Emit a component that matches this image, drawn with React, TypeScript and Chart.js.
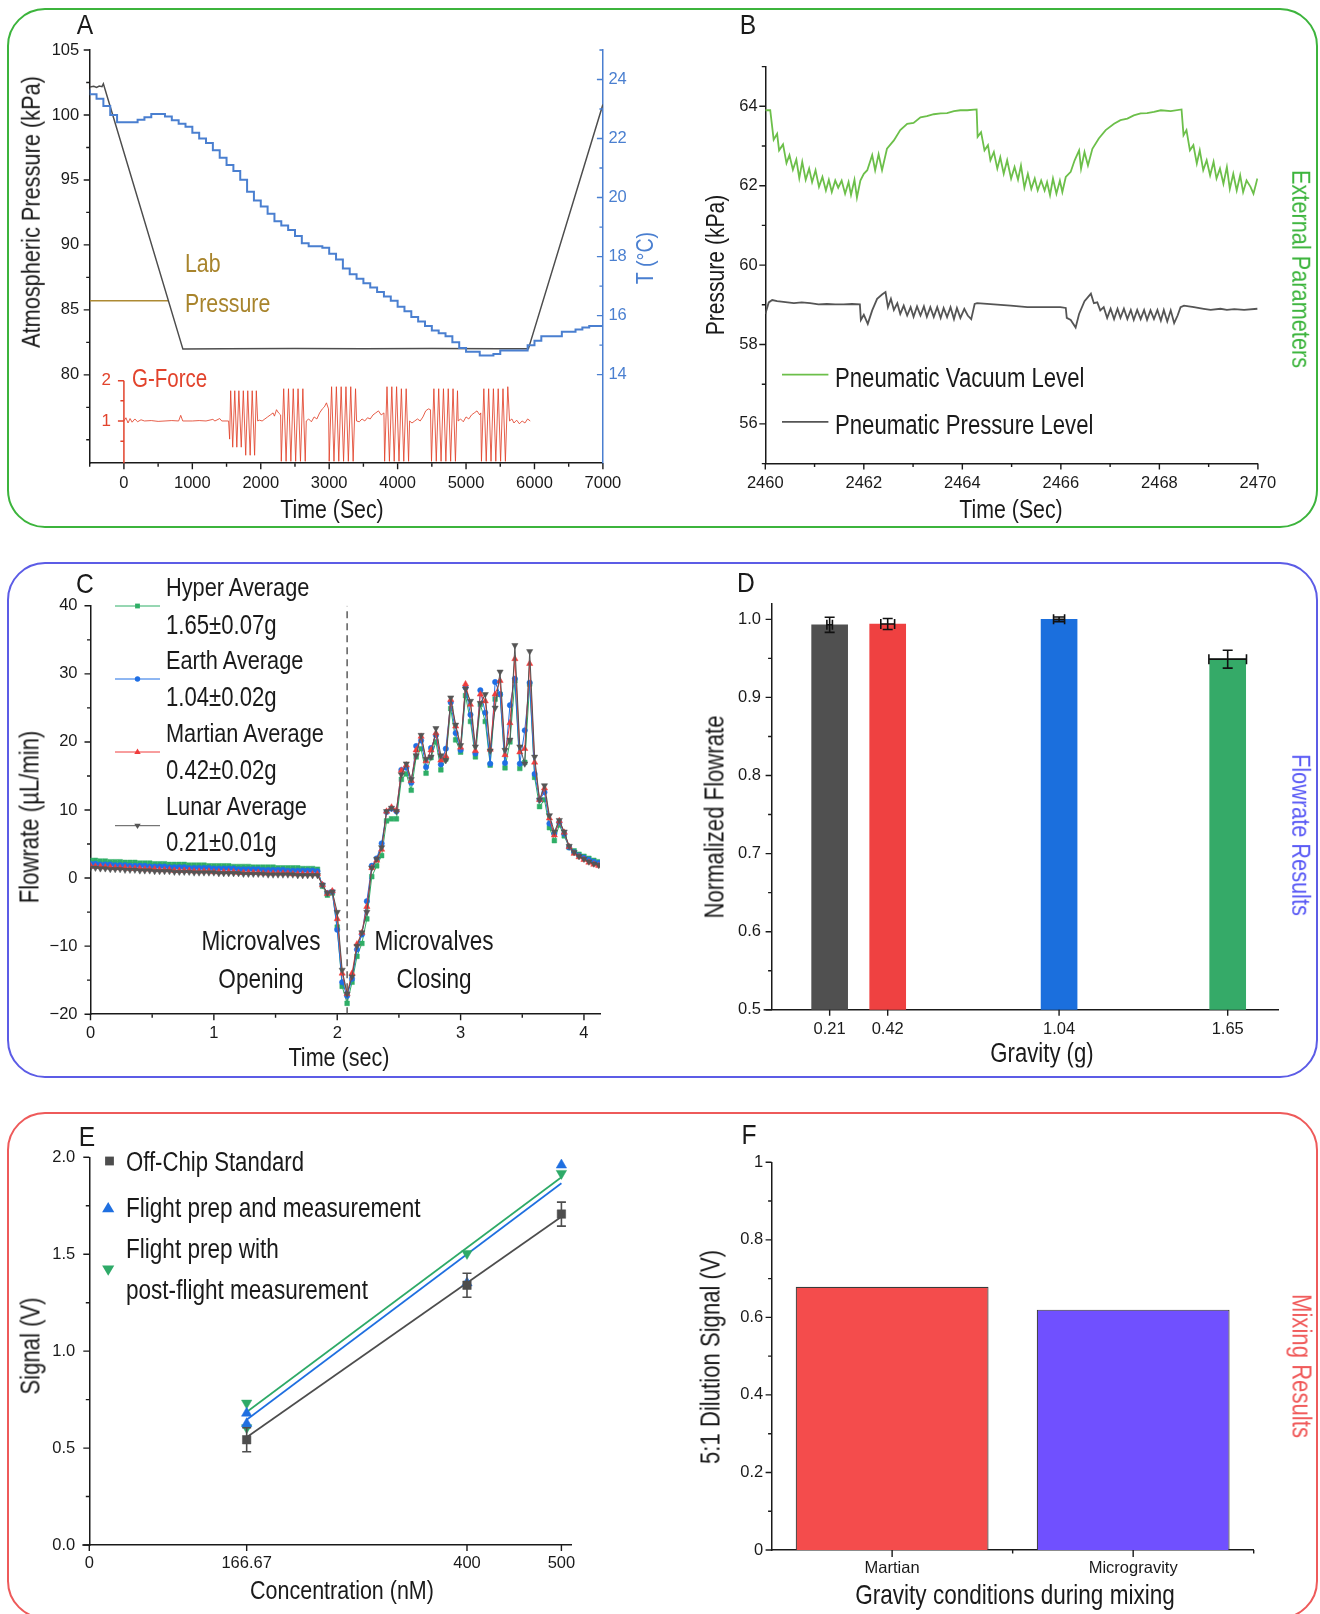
import React, { useEffect, useRef } from 'react';
import { Chart, registerables } from 'chart.js';

Chart.register(...registerables);

const FONT = "'Liberation Sans', Arial, sans-serif";
const INK = '#1a1a1a';
const TICK_SIZE = 16.5;
Chart.defaults.font.family = FONT;

// ================= Panel A data =================
const pressureSamples: [number, number][] = [
  [-500, 102.15], [-440, 102.2], [-400, 102.12], [-360, 102.22], [-320, 102.18], [-300, 102.4],
  [862, 81.98], [1500, 82.0], [2500, 82.03], [3500, 82.0], [4500, 82.03], [5500, 82.0], [5911, 82.0], [7000, 100.8],
];
const labPressureSamples: [number, number][] = [[-500, 85.7], [648, 85.7]];
const temperatureSamples: [number, number][] = [
  [-500, 23.66], [-400, 23.5], [-300, 23.35], [-200, 23.1], [-100, 22.8], [0, 22.55], [100, 22.55], [200, 22.55],
  [300, 22.64], [400, 22.72], [500, 22.83], [600, 22.83], [700, 22.75], [800, 22.62], [900, 22.5], [1000, 22.4],
  [1100, 22.2], [1200, 22.0], [1300, 21.85], [1400, 21.6], [1500, 21.35], [1600, 21.1], [1700, 20.9], [1800, 20.6],
  [1900, 20.2], [2000, 19.9], [2100, 19.7], [2200, 19.45], [2300, 19.2], [2400, 19.05], [2500, 18.9], [2600, 18.7],
  [2700, 18.45], [2800, 18.35], [2900, 18.35], [3000, 18.3], [3100, 18.1], [3200, 17.9], [3300, 17.6], [3400, 17.4],
  [3500, 17.25], [3600, 17.1], [3700, 16.95], [3800, 16.8], [3900, 16.65], [4000, 16.5], [4100, 16.3], [4200, 16.15],
  [4300, 15.95], [4400, 15.8], [4500, 15.65], [4600, 15.5], [4700, 15.4], [4800, 15.3], [4900, 15.1], [5000, 14.9],
  [5100, 14.78], [5200, 14.78], [5300, 14.65], [5400, 14.65], [5500, 14.7], [5600, 14.82], [5700, 14.82], [5800, 14.82],
  [5900, 14.82], [6000, 15.0], [6100, 15.15], [6200, 15.3], [6300, 15.3], [6400, 15.3], [6500, 15.45], [6600, 15.45],
  [6700, 15.53], [6800, 15.6], [6900, 15.65], [7000, 15.65],
];
const gForceSamples: [number, number][] = [
  [0, 1.0], [30, 1.08], [60, 0.95], [90, 1.06], [120, 0.97], [160, 1.05], [200, 0.98], [250, 1.03], [300, 1.0],
  [400, 1.01], [500, 0.99], [600, 1.0], [700, 1.01], [800, 1.0], [830, 1.14], [860, 1.0], [1000, 1.0],
  [1100, 1.01], [1200, 1.0], [1300, 1.04], [1330, 1.0], [1400, 1.06], [1430, 1.0], [1530, 1.0],
  [1545, 0.55], [1560, 1.75], [1590, 0.35], [1620, 1.75], [1650, 0.35], [1680, 1.75], [1715, 0.35], [1745, 1.75],
  [1780, 0.15], [1810, 1.75], [1845, 0.15], [1875, 1.75], [1910, 0.15], [1935, 1.75], [1955, 1.0],
  [1980, 1.02], [2020, 1.0], [2060, 1.05], [2100, 1.1], [2140, 1.15], [2180, 1.2], [2200, 1.12], [2230, 1.28], [2260, 1.2], [2290, 1.15],
  [2300, 0.0], [2335, 1.8], [2370, 0.0], [2405, 1.8], [2440, 0.0], [2475, 1.8], [2510, 0.0], [2545, 1.8], [2580, 0.0], [2615, 1.8], [2650, 0.0], [2665, 1.0],
  [2700, 1.05], [2740, 0.98], [2780, 1.1], [2820, 1.05], [2860, 1.2], [2900, 1.3], [2930, 1.35], [2960, 1.45], [2990, 1.3],
  [3000, 0.0], [3035, 1.85], [3070, 0.0], [3105, 1.85], [3140, 0.0], [3175, 1.85], [3210, 0.0], [3245, 1.85], [3280, 0.0], [3315, 1.85], [3350, 0.0], [3385, 1.8], [3400, 1.0],
  [3440, 0.98], [3480, 1.05], [3520, 1.0], [3560, 1.08], [3600, 1.05], [3640, 1.15], [3680, 1.2], [3720, 1.25], [3760, 1.15], [3800, 1.2],
  [3810, 0.0], [3845, 1.85], [3880, 0.0], [3915, 1.85], [3950, 0.0], [3985, 1.85], [4020, 0.0], [4055, 1.8], [4090, 0.0], [4125, 1.8], [4160, 0.0], [4175, 1.0],
  [4210, 0.95], [4250, 1.0], [4290, 1.05], [4330, 1.0], [4370, 1.1], [4410, 1.25], [4450, 1.3], [4480, 1.28],
  [4495, 0.0], [4530, 1.8], [4565, 0.0], [4600, 1.8], [4635, 0.0], [4670, 1.8], [4705, 0.0], [4740, 1.8], [4775, 0.0], [4810, 1.8], [4845, 0.0], [4875, 1.75], [4885, 1.0],
  [4920, 1.05], [4960, 0.98], [5000, 1.1], [5040, 1.05], [5080, 1.15], [5120, 1.2], [5160, 1.25], [5200, 1.15], [5215, 1.2],
  [5225, 0.0], [5260, 1.8], [5295, 0.0], [5330, 1.8], [5365, 0.0], [5400, 1.8], [5435, 0.0], [5470, 1.8], [5505, 0.0], [5540, 1.8], [5575, 0.0], [5610, 1.85], [5636, 1.0],
  [5670, 1.05], [5700, 0.95], [5740, 1.02], [5780, 0.93], [5820, 1.0], [5860, 0.95], [5900, 1.05], [5938, 1.0],
];
const aPressureTicks = [80, 85, 90, 95, 100, 105];
const aPressureMinor = [75, 77.5, 82.5, 87.5, 92.5, 97.5, 102.5];
const aTempTicks = [14, 16, 18, 20, 22, 24];
const aTempMinor = [15, 17, 19, 21, 23, 25];
const aTimeTicks = [0, 1000, 2000, 3000, 4000, 5000, 6000, 7000];
const aTimeMinor = [-500, 500, 1500, 2500, 3500, 4500, 5500, 6500];
const gAxisTicks = [1, 2];
const gAxisMinor = [0.5, 1.5];

// ================= Panel B data =================
const vacuumSamples: [number, number][] = [
  [2460.00, 63.90], [2460.10, 63.90], [2460.17, 63.16], [2460.24, 63.31], [2460.28, 62.89], [2460.36, 63.04],
  [2460.43, 62.57], [2460.49, 62.77], [2460.56, 62.40], [2460.63, 62.66], [2460.69, 62.19], [2460.75, 62.60],
  [2460.82, 62.15], [2460.89, 62.43], [2460.95, 62.09], [2461.02, 62.39], [2461.09, 61.97], [2461.16, 62.22],
  [2461.23, 61.88], [2461.29, 62.15], [2461.35, 61.84], [2461.42, 62.13], [2461.48, 61.95], [2461.55, 62.13],
  [2461.62, 61.80], [2461.69, 62.09], [2461.74, 61.77], [2461.81, 62.15], [2461.86, 61.70], [2461.93, 62.13],
  [2462.00, 62.30], [2462.07, 62.39], [2462.17, 62.77], [2462.23, 62.39], [2462.30, 62.79], [2462.37, 62.39],
  [2462.47, 62.93], [2462.61, 63.14], [2462.74, 63.40], [2462.88, 63.56], [2463.01, 63.58], [2463.15, 63.72],
  [2463.28, 63.75], [2463.42, 63.80], [2463.56, 63.82], [2463.69, 63.83], [2463.83, 63.88], [2463.96, 63.90],
  [2464.10, 63.90], [2464.29, 63.92], [2464.31, 63.23], [2464.38, 63.35], [2464.45, 62.89], [2464.52, 63.02],
  [2464.57, 62.64], [2464.64, 62.85], [2464.71, 62.43], [2464.77, 62.72], [2464.84, 62.30], [2464.91, 62.64],
  [2464.99, 62.18], [2465.06, 62.47], [2465.13, 62.15], [2465.19, 62.51], [2465.26, 61.95], [2465.33, 62.30],
  [2465.40, 61.92], [2465.47, 62.18], [2465.53, 61.88], [2465.60, 62.13], [2465.67, 61.88], [2465.72, 62.09],
  [2465.78, 61.76], [2465.84, 62.18], [2465.91, 61.80], [2465.98, 62.13], [2466.03, 61.84], [2466.10, 62.22],
  [2466.20, 62.35], [2466.28, 62.64], [2466.37, 62.89], [2466.41, 62.43], [2466.48, 62.85], [2466.55, 62.51],
  [2466.64, 62.93], [2466.77, 63.19], [2466.91, 63.40], [2467.08, 63.56], [2467.21, 63.65], [2467.35, 63.69],
  [2467.48, 63.77], [2467.62, 63.82], [2467.75, 63.83], [2467.89, 63.86], [2468.03, 63.90], [2468.23, 63.88],
  [2468.45, 63.92], [2468.49, 63.27], [2468.55, 63.40], [2468.62, 62.89], [2468.69, 63.02], [2468.76, 62.56],
  [2468.82, 62.89], [2468.89, 62.39], [2468.96, 62.64], [2469.03, 62.26], [2469.10, 62.60], [2469.16, 62.18],
  [2469.23, 62.43], [2469.30, 62.05], [2469.37, 62.47], [2469.43, 61.92], [2469.50, 62.30], [2469.57, 61.88],
  [2469.64, 62.26], [2469.70, 61.84], [2469.77, 62.13], [2469.85, 61.97], [2469.91, 61.80], [2469.99, 62.18],
];
const pneumaticSamples: [number, number][] = [
  [2460.00, 58.77], [2460.07, 59.06], [2460.14, 59.12], [2460.24, 59.09], [2460.41, 59.07], [2460.58, 59.04],
  [2460.74, 59.06], [2460.91, 59.04], [2461.08, 59.01], [2461.25, 59.02], [2461.42, 59.01], [2461.59, 59.01],
  [2461.76, 59.02], [2461.92, 59.01], [2461.94, 58.62], [2462.00, 58.75], [2462.08, 58.52], [2462.17, 58.86],
  [2462.27, 59.15], [2462.37, 59.26], [2462.44, 59.32], [2462.49, 58.94], [2462.55, 59.15], [2462.61, 58.87],
  [2462.68, 59.04], [2462.74, 58.77], [2462.81, 58.98], [2462.88, 58.73], [2462.95, 58.94], [2463.01, 58.70],
  [2463.08, 58.96], [2463.15, 58.73], [2463.22, 58.96], [2463.28, 58.70], [2463.35, 58.94], [2463.42, 58.69],
  [2463.49, 58.94], [2463.56, 58.67], [2463.62, 58.92], [2463.69, 58.69], [2463.76, 58.94], [2463.83, 58.64],
  [2463.89, 58.92], [2463.96, 58.67], [2464.04, 58.90], [2464.11, 58.73], [2464.18, 58.64], [2464.25, 59.02],
  [2464.30, 59.04], [2464.64, 59.01], [2464.98, 58.98], [2465.32, 58.94], [2465.65, 58.94], [2465.99, 58.94],
  [2466.10, 58.92], [2466.12, 58.67], [2466.20, 58.62], [2466.30, 58.43], [2466.37, 58.77], [2466.48, 59.09],
  [2466.61, 59.28], [2466.67, 59.04], [2466.74, 59.06], [2466.80, 58.86], [2466.87, 58.94], [2466.94, 58.67],
  [2467.01, 58.90], [2467.08, 58.64], [2467.15, 58.90], [2467.21, 58.67], [2467.28, 58.90], [2467.35, 58.64],
  [2467.42, 58.87], [2467.48, 58.62], [2467.55, 58.87], [2467.62, 58.64], [2467.69, 58.87], [2467.75, 58.62],
  [2467.82, 58.86], [2467.89, 58.64], [2467.96, 58.87], [2468.03, 58.60], [2468.09, 58.87], [2468.16, 58.58],
  [2468.23, 58.86], [2468.30, 58.54], [2468.37, 58.73], [2468.43, 58.94], [2468.50, 58.98], [2468.70, 58.94],
  [2468.90, 58.90], [2469.04, 58.87], [2469.24, 58.90], [2469.37, 58.87], [2469.52, 58.89], [2469.72, 58.87],
  [2469.99, 58.90],
];
const bPressureTicks = [56, 58, 60, 62, 64];
const bPressureMinor = [55, 57, 59, 61, 63, 65];
const bTimeTicks = [2460, 2462, 2464, 2466, 2468, 2470];
const bTimeMinor = [2461, 2463, 2465, 2467, 2469];

// ================= Panel C data =================
const flowTime = [
  0, 0.04, 0.08, 0.12, 0.16, 0.2, 0.24, 0.28, 0.32, 0.36, 0.4, 0.44, 0.48, 0.52, 0.56, 0.6, 0.64, 0.68, 0.72, 0.76,
  0.8, 0.84, 0.88, 0.92, 0.96, 1.0, 1.04, 1.08, 1.12, 1.16, 1.2, 1.24, 1.28, 1.32, 1.36, 1.4, 1.44, 1.48, 1.52, 1.56,
  1.6, 1.64, 1.68, 1.72, 1.76, 1.8, 1.84, 1.88, 1.92, 1.96, 2.0, 2.04, 2.08, 2.12, 2.16, 2.2, 2.24, 2.28, 2.32, 2.36,
  2.4, 2.44, 2.48, 2.52, 2.56, 2.6, 2.64, 2.68, 2.72, 2.76, 2.8, 2.84, 2.88, 2.92, 2.96, 3.0, 3.04, 3.08, 3.12, 3.16,
  3.2, 3.24, 3.28, 3.32, 3.36, 3.4, 3.44, 3.48, 3.52, 3.56, 3.6, 3.64, 3.68, 3.72, 3.76, 3.8, 3.84, 3.88, 3.92, 3.96,
  4.0, 4.04, 4.08, 4.12,
];
const hyperFlow = [
  2.6, 2.6, 2.5, 2.5, 2.4, 2.4, 2.4, 2.3, 2.3, 2.3, 2.2, 2.2, 2.2, 2.1, 2.1, 2.1, 2.0, 2.0, 2.0, 2.0,
  1.9, 1.9, 1.9, 1.9, 1.8, 1.8, 1.8, 1.8, 1.8, 1.7, 1.7, 1.7, 1.7, 1.6, 1.6, 1.6, 1.6, 1.6, 1.5, 1.5,
  1.5, 1.5, 1.5, 1.4, 1.4, 1.4, 1.3,
  -1.2, -2.5, -2.2, -7.2, -15.9, -18.4, -15.3, -11.5, -9.6, -6.0, 0.2, 1.8, 3.3, 8.4, 8.7, 8.7, 14.5, 15.3, 12.9, 17.8,
  19.0, 15.4, 17.7, 20.0, 15.9, 17.5, 24.9, 20.3, 18.5, 26.8, 23.0, 17.8, 25.5, 23.0, 16.6, 26.3, 27.0, 16.2, 20.0, 29.0,
  16.1, 17.0, 28.5, 14.8, 10.5, 11.5, 7.4, 5.5, 7.8, 6.2, 4.5, 4.0, 3.5, 3.2, 2.9, 2.6, 2.4,
];
const earthFlow = [
  2.1, 2.1, 2.0, 2.0, 2.0, 1.9, 1.9, 1.9, 1.8, 1.8, 1.8, 1.8, 1.7, 1.7, 1.7, 1.7, 1.6, 1.6, 1.6, 1.6,
  1.5, 1.5, 1.5, 1.5, 1.5, 1.4, 1.4, 1.4, 1.4, 1.4, 1.3, 1.3, 1.3, 1.3, 1.3, 1.2, 1.2, 1.2, 1.2, 1.2,
  1.1, 1.1, 1.1, 1.1, 1.1, 1.1, 1.0,
  -1.0, -2.2, -2.0, -7.6, -15.3, -17.3, -14.8, -10.5, -8.3, -3.4, 1.8, 2.9, 5.1, 9.7, 10.2, 9.8, 15.9, 16.2, 14.0, 19.4,
  20.2, 16.3, 19.1, 21.0, 16.7, 19.0, 25.8, 21.3, 18.8, 28.0, 24.0, 18.3, 27.6, 24.3, 16.8, 28.8, 27.0, 16.9, 25.4, 29.3,
  16.8, 21.7, 28.7, 15.3, 11.5, 12.6, 8.0, 6.5, 8.2, 6.5, 4.5, 3.8, 3.3, 3.0, 2.7, 2.4, 2.2,
];
const martianFlow = [
  1.8, 1.7, 1.7, 1.6, 1.6, 1.5, 1.5, 1.5, 1.4, 1.4, 1.4, 1.3, 1.3, 1.3, 1.2, 1.2, 1.2, 1.1, 1.1, 1.1,
  1.1, 1.0, 1.0, 1.0, 1.0, 0.9, 0.9, 0.9, 0.9, 0.9, 0.8, 0.8, 0.8, 0.8, 0.8, 0.7, 0.7, 0.7, 0.7, 0.7,
  0.7, 0.6, 0.6, 0.6, 0.6, 0.6, 0.6,
  -1.0, -2.3, -1.9, -6.0, -14.0, -17.0, -14.0, -9.7, -8.0, -4.2, 1.5, 2.6, 4.2, 9.8, 10.4, 10.0, 15.8, 16.6, 14.3, 18.8,
  20.8, 17.2, 18.8, 21.3, 17.3, 17.9, 26.2, 22.3, 19.2, 28.5, 25.5, 18.7, 27.0, 26.0, 18.9, 27.0, 29.0, 18.1, 22.8, 32.2,
  18.5, 19.0, 31.5, 17.0, 11.5, 13.2, 8.8, 6.3, 8.4, 6.7, 4.6, 3.6, 3.1, 2.7, 2.3, 2.0, 1.8,
];
const lunarFlow = [
  1.5, 1.5, 1.4, 1.4, 1.3, 1.3, 1.3, 1.2, 1.2, 1.2, 1.1, 1.1, 1.1, 1.0, 1.0, 1.0, 1.0, 0.9, 0.9, 0.9,
  0.9, 0.8, 0.8, 0.8, 0.8, 0.8, 0.7, 0.7, 0.7, 0.7, 0.7, 0.6, 0.6, 0.6, 0.6, 0.6, 0.5, 0.5, 0.5, 0.5,
  0.5, 0.5, 0.4, 0.4, 0.4, 0.4, 0.4,
  -1.0, -2.2, -2.0, -5.0, -13.5, -17.0, -14.5, -10.0, -8.0, -5.0, 1.5, 2.8, 4.5, 9.8, 10.3, 9.8, 15.2, 16.8, 14.5, 18.0,
  21.0, 17.5, 17.8, 22.0, 18.0, 17.3, 26.5, 22.5, 19.5, 27.8, 26.0, 19.3, 25.7, 27.0, 18.7, 25.0, 30.3, 18.8, 20.3, 34.2,
  19.3, 16.8, 33.3, 17.8, 11.5, 13.6, 9.2, 6.8, 8.5, 6.8, 4.7, 3.8, 3.2, 2.8, 2.4, 2.1, 1.9,
];
const valveSwitchTime = 2.08;
const cFlowTicks = [-20, -10, 0, 10, 20, 30, 40];
const cFlowMinor = [-15, -5, 5, 15, 25, 35];
const cTimeTicks = [0, 1, 2, 3, 4];
const cTimeMinor = [0.5, 1.5, 2.5, 3.5];

// ================= Panel D data =================
const gravityLevels = [0.21, 0.42, 1.04, 1.65];
const gravityErr = [0.01, 0.025, 0.02, 0.068];
const normFlow = [0.993, 0.994, 1.0, 0.949];
const normFlowErr = [0.0097, 0.007, 0.003, 0.0115];
const dFlowTicks = [0.5, 0.6, 0.7, 0.8, 0.9, 1.0];
const dFlowMinor = [0.55, 0.65, 0.75, 0.85, 0.95];

// ================= Panel E data =================
const concTicks = [0, 166.67, 400, 500];
const stdConc = [166.67, 400, 500];
const stdSignal = [0.543, 1.34, 1.707];
const stdErr = [0.062, 0.062, 0.062];
const flightConc = [166.67, 166.67, 400, 500];
const flightSignal = [0.68, 0.626, 1.352, 1.96];
const postConc = [166.67, 166.67, 400, 500];
const postSignal = [0.732, 0.605, 1.504, 1.917];
const fitConc = [166.67, 500];
const stdFit = [0.556, 1.693];
const flightFit = [0.646, 1.866];
const postFit = [0.686, 1.897];
const eSignalTicks = [0, 0.5, 1.0, 1.5, 2.0];
const eSignalMinor = [0.25, 0.75, 1.25, 1.75];

// ================= Panel F data =================
const mixConditions = ['Martian', 'Microgravity'];
const mixSignal = [0.679, 0.62];
const fSignalTicks = [0, 0.2, 0.4, 0.6, 0.8, 1];
const fSignalMinor = [0.1, 0.3, 0.5, 0.7, 0.9];

// ================= helpers =================
const pts = (xs: number[], ys: number[]) => xs.map((x, i) => ({ x, y: ys[i] }));
const pairs = (p: [number, number][]) => p.map(([x, y]) => ({ x, y }));

function vAxis(o: any) {
  return {
    type: 'linear', position: o.pos, min: o.min, max: o.max, bounds: 'data',
    afterBuildTicks: (s: any) => { s.ticks = o.ticks.map((v: number) => ({ value: v })); },
    afterFit: (s: any) => { s.width = o.w; },
    ticks: {
      autoSkip: false, padding: o.pad, color: o.color || INK, font: { family: FONT, size: o.size || TICK_SIZE },
      callback: (v: number) => (o.fmt ? o.fmt(v) : String(v)),
    },
    grid: { display: false, drawTicks: false },
    border: { display: true, color: o.color || INK, width: 1.5 },
  };
}
function hAxis(o: any) {
  return {
    type: 'linear', position: 'bottom', min: o.min, max: o.max, bounds: 'data', offset: false,
    afterBuildTicks: (s: any) => { s.ticks = o.ticks.map((v: number) => ({ value: v })); },
    afterFit: (s: any) => { s.height = o.h; },
    ticks: {
      autoSkip: false, maxRotation: 0, padding: o.pad, color: INK, font: { family: FONT, size: o.size || TICK_SIZE },
      callback: (v: number) => (o.fmt ? o.fmt(v) : String(v)),
    },
    grid: { display: false, drawTicks: false },
    border: { display: true, color: INK, width: 1.5 },
  };
}

type TickSet = { scale: string; values: number[]; len: number; edge: 'left' | 'right' | 'bottom'; dir: number; color?: string };
function tickMarks(sets: TickSet[], extendBottomLeft = 0) {
  return {
    id: 'tickMarks',
    afterDraw(chart: any) {
      const { ctx, chartArea: a } = chart;
      ctx.save();
      ctx.lineWidth = 1.4;
      for (const s of sets) {
        const sc = chart.scales[s.scale];
        ctx.strokeStyle = s.color || INK;
        ctx.beginPath();
        for (const v of s.values) {
          const p = sc.getPixelForValue(v);
          if (s.edge === 'bottom') { ctx.moveTo(p, a.bottom); ctx.lineTo(p, a.bottom + s.dir * s.len); }
          else { const x0 = s.edge === 'left' ? a.left : a.right; ctx.moveTo(x0, p); ctx.lineTo(x0 + s.dir * s.len, p); }
        }
        ctx.stroke();
      }
      if (extendBottomLeft) {
        ctx.strokeStyle = INK; ctx.lineWidth = 1.5;
        ctx.beginPath(); ctx.moveTo(a.left - extendBottomLeft, a.bottom); ctx.lineTo(a.left, a.bottom); ctx.stroke();
      }
      ctx.restore();
    },
  };
}

function marker(ctx: any, style: string, x: number, y: number, r: number, color: string) {
  ctx.fillStyle = color;
  ctx.beginPath();
  if (style === 'rect') ctx.rect(x - r, y - r, 2 * r, 2 * r);
  else if (style === 'circle') ctx.arc(x, y, r, 0, Math.PI * 2);
  else if (style === 'up') { ctx.moveTo(x, y - r); ctx.lineTo(x + r * 0.95, y + r * 0.6); ctx.lineTo(x - r * 0.95, y + r * 0.6); ctx.closePath(); }
  else { ctx.moveTo(x, y + r); ctx.lineTo(x + r * 0.95, y - r * 0.6); ctx.lineTo(x - r * 0.95, y - r * 0.6); ctx.closePath(); }
  ctx.fill();
}

const base = (padding: any) => ({
  responsive: false,
  animation: false,
  events: [],
  layout: { padding },
  plugins: { legend: { display: false }, tooltip: { enabled: false } },
});

// ================= chart configs =================
const RED_G = '#e2432c';
const TEMP_BLUE = '#4a7fd0';

function makeA(): any {
  return {
    type: 'line',
    data: {
      datasets: [
        { label: 'Temperature', data: pairs(temperatureSamples), yAxisID: 'yT', borderColor: TEMP_BLUE, borderWidth: 2, stepped: 'after', pointRadius: 0 },
        { label: 'Atmospheric Pressure', data: pairs(pressureSamples), yAxisID: 'yP', borderColor: '#4d4d4d', borderWidth: 1.5, pointRadius: 0 },
        { label: 'Lab Pressure', data: pairs(labPressureSamples), yAxisID: 'yP', borderColor: '#ad8a33', borderWidth: 1.6, pointRadius: 0 },
        { label: 'G-Force', data: pairs(gForceSamples), yAxisID: 'yG', borderColor: 'rgba(226,67,44,0.85)', borderWidth: 1, pointRadius: 0 },
      ],
    },
    options: {
      ...base({ top: 50, right: 0, left: 0, bottom: 0 }),
      scales: {
        x: hAxis({ min: -500, max: 7000, ticks: aTimeTicks, h: 66.8, pad: 10 }),
        yP: vAxis({ pos: 'left', min: 73.2, max: 105, ticks: aPressureTicks, w: 89.7, pad: 10.5 }),
        yT: vAxis({ pos: 'right', min: 11, max: 25, ticks: aTempTicks, w: 57.1, pad: 5.5, color: TEMP_BLUE }),
        yG: { type: 'linear', display: false, min: -0.047, max: 10.2 },
      },
    },
    plugins: [
      tickMarks([
        { scale: 'yP', values: aPressureTicks, len: 6, edge: 'left', dir: -1 },
        { scale: 'yP', values: aPressureMinor, len: 3.5, edge: 'left', dir: -1 },
        { scale: 'yT', values: aTempTicks, len: 6, edge: 'right', dir: -1, color: TEMP_BLUE },
        { scale: 'yT', values: aTempMinor, len: 3.5, edge: 'right', dir: -1, color: TEMP_BLUE },
        { scale: 'x', values: aTimeTicks, len: 6, edge: 'bottom', dir: 1 },
        { scale: 'x', values: aTimeMinor, len: 3.5, edge: 'bottom', dir: 1 },
      ]),
      {
        id: 'gAxis',
        afterDraw(chart: any) {
          const { ctx, chartArea: a, scales } = chart;
          const x0 = scales.x.getPixelForValue(0);
          const yg = scales.yG;
          ctx.save();
          ctx.strokeStyle = RED_G; ctx.lineWidth = 1.5;
          ctx.beginPath();
          ctx.moveTo(x0, a.bottom); ctx.lineTo(x0, yg.getPixelForValue(2));
          for (const v of gAxisTicks) { const y = yg.getPixelForValue(v); ctx.moveTo(x0, y); ctx.lineTo(x0 - 6, y); }
          for (const v of gAxisMinor) { const y = yg.getPixelForValue(v); ctx.moveTo(x0, y); ctx.lineTo(x0 - 3.5, y); }
          ctx.stroke();
          ctx.fillStyle = RED_G; ctx.font = `17px ${FONT}`; ctx.textAlign = 'right'; ctx.textBaseline = 'middle';
          for (const v of gAxisTicks) ctx.fillText(String(v), x0 - 13, yg.getPixelForValue(v));
          ctx.restore();
        },
      },
    ],
  };
}

const VAC_GREEN = '#6cbf4a';
const PNEU_GRAY = '#555555';
function makeB(): any {
  return {
    type: 'line',
    data: {
      datasets: [
        { label: 'Pneumatic Vacuum Level', data: pairs(vacuumSamples), borderColor: VAC_GREEN, borderWidth: 1.8, pointRadius: 0 },
        { label: 'Pneumatic Pressure Level', data: pairs(pneumaticSamples), borderColor: PNEU_GRAY, borderWidth: 1.8, pointRadius: 0 },
      ],
    },
    options: {
      ...base({ top: 66.6, right: 62.1, left: 0, bottom: 0 }),
      scales: {
        x: hAxis({ min: 2460, max: 2470, ticks: bTimeTicks, h: 66.4, pad: 10 }),
        y: vAxis({ pos: 'left', min: 55, max: 65, ticks: bPressureTicks, w: 105.3, pad: 7.6 }),
      },
    },
    plugins: [
      tickMarks([
        { scale: 'y', values: bPressureTicks, len: 6, edge: 'left', dir: -1 },
        { scale: 'y', values: bPressureMinor, len: 3.5, edge: 'left', dir: -1 },
        { scale: 'x', values: bTimeTicks, len: 6, edge: 'bottom', dir: 1 },
        { scale: 'x', values: bTimeMinor, len: 3.5, edge: 'bottom', dir: 1 },
      ]),
      {
        id: 'bLegend',
        afterDraw(chart: any) {
          const ctx = chart.ctx;
          ctx.save(); ctx.lineWidth = 1.8;
          ctx.strokeStyle = VAC_GREEN; ctx.beginPath(); ctx.moveTo(122, 374.6); ctx.lineTo(168.4, 374.6); ctx.stroke();
          ctx.strokeStyle = PNEU_GRAY; ctx.beginPath(); ctx.moveTo(122, 421.9); ctx.lineTo(168.4, 421.9); ctx.stroke();
          ctx.restore();
        },
      },
    ],
  };
}

const C_GREEN = '#2fae66';
const C_BLUE = '#1f6fe5';
const C_RED = '#f03c3c';
const C_GRAY = '#555555';
function makeC(): any {
  const ser = (label: string, ys: number[], color: string, style: string, r: number, rot = 0) => ({
    label, data: pts(flowTime, ys), borderColor: color, backgroundColor: color, borderWidth: 1,
    pointStyle: style, pointRadius: r, pointRotation: rot, pointBorderWidth: 0.5, pointBorderColor: color, pointBackgroundColor: color,
  });
  return {
    type: 'line',
    data: {
      datasets: [
        ser('Lunar Average 0.21±0.01g', lunarFlow, C_GRAY, 'triangle', 3.6, 180),
        ser('Martian Average 0.42±0.02g', martianFlow, C_RED, 'triangle', 3.6),
        ser('Earth Average 1.04±0.02g', earthFlow, C_BLUE, 'circle', 2.7),
        ser('Hyper Average 1.65±0.07g', hyperFlow, C_GREEN, 'rect', 3.3),
        { label: 'valve switch', data: [{ x: valveSwitchTime, y: -20 }, { x: valveSwitchTime, y: 40 }], borderColor: '#333', borderWidth: 1.2, borderDash: [7, 5], pointRadius: 0 },
      ],
    },
    options: {
      ...base({ top: 65.8, right: 60, left: 0, bottom: 0 }),
      scales: {
        x: hAxis({ min: 0, max: 4.13, ticks: cTimeTicks, h: 65.8, pad: 9 }),
        y: vAxis({ pos: 'left', min: -20, max: 40, ticks: cFlowTicks, w: 90.5, pad: 13, fmt: (v: number) => (v < 0 ? '\u2212' + Math.abs(v) : String(v)) }),
      },
    },
    plugins: [
      tickMarks([
        { scale: 'y', values: cFlowTicks, len: 6, edge: 'left', dir: -1 },
        { scale: 'y', values: cFlowMinor, len: 3.5, edge: 'left', dir: -1 },
        { scale: 'x', values: cTimeTicks, len: 6, edge: 'bottom', dir: 1 },
        { scale: 'x', values: cTimeMinor, len: 3.5, edge: 'bottom', dir: 1 },
      ]),
      {
        id: 'cLegend',
        afterDraw(chart: any) {
          const ctx = chart.ctx;
          const rows = [
            { y: 66, c: C_GREEN, s: 'rect', r: 2.4 },
            { y: 139, c: C_BLUE, s: 'circle', r: 2.7 },
            { y: 212, c: C_RED, s: 'up', r: 3.4 },
            { y: 285.7, c: C_GRAY, s: 'down', r: 3.4 },
          ];
          ctx.save(); ctx.lineWidth = 1;
          for (const row of rows) {
            ctx.strokeStyle = row.c; ctx.beginPath(); ctx.moveTo(115, row.y); ctx.lineTo(160, row.y); ctx.stroke();
            marker(ctx, row.s, 137.5, row.y, row.r, row.c);
          }
          ctx.restore();
        },
      },
    ],
  };
}

const D_COLORS = ['#505050', '#ef4141', '#1b6fdd', '#35aa68'];
function makeD(): any {
  return {
    type: 'bar',
    data: {
      datasets: [
        { label: 'Normalized Flowrate', data: pts(gravityLevels, normFlow), backgroundColor: D_COLORS, borderWidth: 0, barThickness: 36 },
      ],
    },
    options: {
      ...base({ top: 63.4, right: 42, left: 0, bottom: 0 }),
      scales: {
        x: hAxis({ min: 0, max: 1.832, ticks: gravityLevels, h: 70.2, pad: 9.4, fmt: (v: number) => v.toFixed(2) }),
        y: { ...vAxis({ pos: 'left', min: 0.5, max: 1.0204, ticks: dFlowTicks, w: 111.6, pad: 10.6, fmt: (v: number) => v.toFixed(1) }), beginAtZero: false },
      },
    },
    plugins: [
      tickMarks([
        { scale: 'y', values: dFlowTicks, len: 6, edge: 'left', dir: -1 },
        { scale: 'y', values: dFlowMinor, len: 3.5, edge: 'left', dir: -1 },
        { scale: 'x', values: gravityLevels, len: 6, edge: 'bottom', dir: 1 },
      ], 8),
      {
        id: 'dErr',
        afterDatasetsDraw(chart: any) {
          const { ctx, scales } = chart;
          const xs = scales.x; const ys = scales.y;
          ctx.save(); ctx.strokeStyle = '#111'; ctx.lineWidth = 1.6;
          ctx.beginPath();
          gravityLevels.forEach((g, i) => {
            const x = xs.getPixelForValue(g); const y = ys.getPixelForValue(normFlow[i]);
            const y1 = ys.getPixelForValue(normFlow[i] + normFlowErr[i]); const y2 = ys.getPixelForValue(normFlow[i] - normFlowErr[i]);
            const x1 = xs.getPixelForValue(g - gravityErr[i]); const x2 = xs.getPixelForValue(g + gravityErr[i]);
            ctx.moveTo(x, y1); ctx.lineTo(x, y2);
            ctx.moveTo(x - 5, y1); ctx.lineTo(x + 5, y1);
            ctx.moveTo(x - 5, y2); ctx.lineTo(x + 5, y2);
            ctx.moveTo(x1, y); ctx.lineTo(x2, y);
            ctx.moveTo(x1, y - 5); ctx.lineTo(x1, y + 5);
            ctx.moveTo(x2, y - 5); ctx.lineTo(x2, y + 5);
          });
          ctx.stroke(); ctx.restore();
        },
      },
    ],
  };
}

const E_GRAY = '#4d4d4d';
const E_BLUE = '#1f6fe0';
const E_GREEN = '#2eaa68';
function makeE(): any {
  return {
    type: 'line',
    data: {
      datasets: [
        { label: 'Off-Chip Standard', data: pts(stdConc, stdSignal), showLine: false, pointStyle: 'rect', pointRadius: 6, pointBackgroundColor: E_GRAY, pointBorderColor: E_GRAY, pointBorderWidth: 0.5 },
        { label: 'Flight prep and measurement', data: pts(flightConc, flightSignal), showLine: false, pointStyle: 'triangle', pointRadius: 6, pointBackgroundColor: E_BLUE, pointBorderColor: E_BLUE, pointBorderWidth: 0.5 },
        { label: 'Flight prep with post-flight measurement', data: pts(postConc, postSignal), showLine: false, pointStyle: 'triangle', pointRotation: 180, pointRadius: 6, pointBackgroundColor: E_GREEN, pointBorderColor: E_GREEN, pointBorderWidth: 0.5 },
        { label: 'std fit', data: pts(fitConc, stdFit), borderColor: E_GRAY, borderWidth: 1.7, pointRadius: 0 },
        { label: 'flight fit', data: pts(fitConc, flightFit), borderColor: E_BLUE, borderWidth: 1.7, pointRadius: 0 },
        { label: 'post fit', data: pts(fitConc, postFit), borderColor: E_GREEN, borderWidth: 1.7, pointRadius: 0 },
      ],
    },
    options: {
      ...base({ top: 67.3, right: 88.2, left: 0, bottom: 0 }),
      scales: {
        x: hAxis({ min: 0, max: 511, ticks: concTicks, h: 69, pad: 8.8, fmt: (v: number) => String(v) }),
        y: vAxis({ pos: 'left', min: 0, max: 2.0, ticks: eSignalTicks, w: 89.3, pad: 14, fmt: (v: number) => v.toFixed(1) }),
      },
    },
    plugins: [
      tickMarks([
        { scale: 'y', values: eSignalTicks, len: 6, edge: 'left', dir: -1 },
        { scale: 'y', values: eSignalMinor, len: 3.5, edge: 'left', dir: -1 },
        { scale: 'x', values: concTicks, len: 6, edge: 'bottom', dir: 1 },
      ], 7),
      {
        id: 'eErr',
        afterDatasetsDraw(chart: any) {
          const { ctx, scales } = chart;
          ctx.save(); ctx.strokeStyle = E_GRAY; ctx.lineWidth = 1.6; ctx.beginPath();
          stdConc.forEach((c, i) => {
            const x = scales.x.getPixelForValue(c);
            const y1 = scales.y.getPixelForValue(stdSignal[i] + stdErr[i]);
            const y2 = scales.y.getPixelForValue(stdSignal[i] - stdErr[i]);
            ctx.moveTo(x, y1); ctx.lineTo(x, y2);
            ctx.moveTo(x - 4.5, y1); ctx.lineTo(x + 4.5, y1);
            ctx.moveTo(x - 4.5, y2); ctx.lineTo(x + 4.5, y2);
          });
          ctx.stroke(); ctx.restore();
        },
      },
      {
        id: 'eLegend',
        afterDraw(chart: any) {
          const ctx = chart.ctx;
          marker(ctx, 'rect', 109.5, 71, 4.4, E_GRAY);
          marker(ctx, 'up', 108.2, 118.3, 6.4, E_BLUE);
          marker(ctx, 'down', 108.2, 179.3, 6.4, E_GREEN);
        },
      },
    ],
  };
}

function makeF(): any {
  return {
    type: 'bar',
    data: {
      labels: mixConditions,
      datasets: [
        { label: '5:1 Dilution Signal', data: mixSignal, backgroundColor: ['#f44c4c', '#7050ff'], borderColor: '#3a3a3a', borderWidth: 1.2, categoryPercentage: 0.8, barPercentage: 1.0 },
      ],
    },
    options: {
      ...base({ top: 72.3, right: 66.3, left: 0, bottom: 0 }),
      scales: {
        x: {
          type: 'category', position: 'bottom', offset: true,
          afterFit: (s: any) => { s.height = 64; },
          ticks: { autoSkip: false, maxRotation: 0, padding: 8.5, color: INK, font: { family: FONT, size: TICK_SIZE } },
          grid: { display: false, drawTicks: false },
          border: { display: true, color: INK, width: 1.5 },
        },
        y: { ...vAxis({ pos: 'left', min: 0, max: 1, ticks: fSignalTicks, w: 111.6, pad: 8.4, fmt: (v: number) => (v === 0 || v === 1 ? String(v) : v.toFixed(1)) }), beginAtZero: true },
      },
    },
    plugins: [
      tickMarks([
        { scale: 'y', values: fSignalTicks, len: 6, edge: 'left', dir: -1 },
        { scale: 'y', values: fSignalMinor, len: 3.5, edge: 'left', dir: -1 },
        { scale: 'x', values: [0, 1], len: 7, edge: 'bottom', dir: 1 },
        { scale: 'x', values: [0.5, 1.5], len: 3.5, edge: 'bottom', dir: 1 },
      ]),
    ],
  };
}

// ================= components =================
function ChartCanvas({ x, y, w, h, make }: any) {
  const ref = useRef<HTMLCanvasElement>(null);
  useEffect(() => {
    const chart = new Chart(ref.current as HTMLCanvasElement, make());
    return () => chart.destroy();
  }, []);
  return <canvas ref={ref} width={w} height={h} style={{ position: 'absolute', left: x, top: y, width: w, height: h }} />;
}

function Frame({ l, t, r, b, color }: any) {
  return (
    <div style={{ position: 'absolute', left: l - 1, top: t - 1, width: r - l + 2, height: b - t + 2, border: `2px solid ${color}`, borderRadius: 38, boxSizing: 'border-box' }} />
  );
}

// Text drawn in a narrow style: Liberation Sans compressed horizontally (condensed look of the original).
function Txt({ x, y, s = 26, c = INK, r = 0, left = false, sx = 0.82, children }: any) {
  return (
    <div
      style={{
        position: 'absolute', left: x, top: y,
        transform: `translate(${left ? '0' : '-50%'}, -50%) rotate(${r}deg) scaleX(${sx})`,
        transformOrigin: left ? 'left center' : 'center',
        fontFamily: FONT, fontSize: s, lineHeight: 1, color: c, whiteSpace: 'nowrap',
      }}
    >
      {children}
    </div>
  );
}

export default function App() {
  return (
    <div style={{ position: 'absolute', left: 0, top: 0, width: 1320, height: 1614, overflow: 'hidden', background: '#fff' }}>
      <Frame l={8.4} t={8.5} r={1316.8} b={527.4} color="#3cb43c" />
      <Frame l={8.4} t={562.8} r={1316.8} b={1077.4} color="#5c5ce6" />
      <Frame l={8.4} t={1112.7} r={1316.8} b={1618} color="#ee5a5a" />

      <ChartCanvas x={0} y={0} w={660} h={530} make={makeA} />
      <ChartCanvas x={660} y={0} w={660} h={530} make={makeB} />
      <ChartCanvas x={0} y={540} w={660} h={540} make={makeC} />
      <ChartCanvas x={660} y={540} w={660} h={540} make={makeD} />
      <ChartCanvas x={0} y={1090} w={660} h={524} make={makeE} />
      <ChartCanvas x={660} y={1090} w={660} h={524} make={makeF} />

      {/* Panel letters */}
      <Txt x={84.6} y={24.9} s={28} sx={0.88}>A</Txt>
      <Txt x={748} y={24.5} s={28} sx={0.88}>B</Txt>
      <Txt x={84.6} y={583.9} s={28} sx={0.88}>C</Txt>
      <Txt x={746} y={583} s={28} sx={0.88}>D</Txt>
      <Txt x={86.8} y={1136.7} s={28} sx={0.88}>E</Txt>
      <Txt x={749} y={1135} s={28} sx={0.88}>F</Txt>

      {/* Panel A */}
      <Txt x={30.5} y={212} r={-90} s={26.5}>Atmospheric Pressure (kPa)</Txt>
      <Txt x={645} y={258} r={-90} s={24} c={TEMP_BLUE}>T (°C)</Txt>
      <Txt x={331.6} y={509} s={26}>Time (Sec)</Txt>
      <Txt x={185.3} y={263} s={26} c="#a8842c" left>Lab</Txt>
      <Txt x={185.3} y={302.5} s={26} c="#a8842c" left>Pressure</Txt>
      <Txt x={131.7} y={378.3} s={25} c={RED_G} left>G-Force</Txt>

      {/* Panel B */}
      <Txt x={716.3} y={264.5} r={-90} s={25.7}>Pressure (kPa)</Txt>
      <Txt x={1011} y={509} s={26}>Time (Sec)</Txt>
      <Txt x={834.7} y={377.8} s={27} left>Pneumatic Vacuum Level</Txt>
      <Txt x={834.7} y={425} s={27} left>Pneumatic Pressure Level</Txt>
      <Txt x={1301} y={268.8} r={90} s={26.5} c="#3cb43c">External Parameters</Txt>

      {/* Panel C */}
      <Txt x={29.5} y={817} r={-90} s={27}>Flowrate (µL/min)</Txt>
      <Txt x={338.5} y={1057} s={26.3}>Time (sec)</Txt>
      <Txt x={261} y={941} s={27.5}>Microvalves</Txt>
      <Txt x={260.7} y={979} s={27.5}>Opening</Txt>
      <Txt x={433.7} y={941} s={27.5}>Microvalves</Txt>
      <Txt x={433.7} y={979} s={27.5}>Closing</Txt>
      <Txt x={166} y={587} s={26.5} left>Hyper Average</Txt>
      <Txt x={166} y={624.5} s={27} left>1.65±0.07g</Txt>
      <Txt x={166} y={660} s={26.5} left>Earth Average</Txt>
      <Txt x={166} y={697} s={27} left>1.04±0.02g</Txt>
      <Txt x={166} y={732.7} s={26.5} left>Martian Average</Txt>
      <Txt x={166} y={770} s={27} left>0.42±0.02g</Txt>
      <Txt x={166} y={805.5} s={26.5} left>Lunar Average</Txt>
      <Txt x={166} y={842} s={27} left>0.21±0.01g</Txt>

      {/* Panel D */}
      <Txt x={714.8} y={817} r={-90} s={27}>Normalized Flowrate</Txt>
      <Txt x={1042} y={1053} s={27}>Gravity (g)</Txt>
      <Txt x={1301} y={834.8} r={90} s={26.5} c="#5a5af5">Flowrate Results</Txt>

      {/* Panel E */}
      <Txt x={31.2} y={1345.8} r={-90} s={27}>Signal (V)</Txt>
      <Txt x={341.7} y={1590} s={26.2}>Concentration (nM)</Txt>
      <Txt x={126.3} y={1161.7} s={27} left>Off-Chip Standard</Txt>
      <Txt x={126.3} y={1208.3} s={27.5} left>Flight prep and measurement</Txt>
      <Txt x={126.3} y={1249} s={27.5} left>Flight prep with</Txt>
      <Txt x={126.3} y={1289.5} s={27.5} left>post-flight measurement</Txt>

      {/* Panel F */}
      <Txt x={711.3} y={1356.7} r={-90} s={27}>5:1 Dilution Signal (V)</Txt>
      <Txt x={1014.5} y={1595} s={27.5}>Gravity conditions during mixing</Txt>
      <Txt x={1301} y={1365.5} r={90} s={27} c="#f05a5a">Mixing Results</Txt>
    </div>
  );
}
